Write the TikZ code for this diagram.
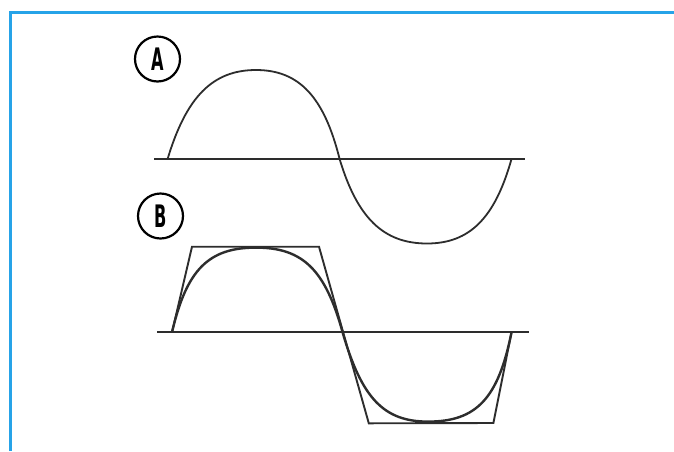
\documentclass[tikz,border=0pt]{standalone}
\usepackage{fontspec}
\setsansfont{DejaVu Sans}
\usetikzlibrary{calc}
\definecolor{ink}{RGB}{45,45,45}
\definecolor{frameblue}{RGB}{38,163,232}
\begin{document}
\begin{tikzpicture}[x=1pt,y=-1pt,
  wave/.style={line width=1.8pt, draw=ink, line join=round},
  thickwave/.style={line width=2.4pt, draw=ink, line join=round},
  axisline/.style={line width=2.2pt, draw=ink},
  trap/.style={line width=1.9pt, draw=ink, line join=miter},
  lbl/.style={circle, draw=black, line width=2.2pt, minimum size=45pt, inner sep=0pt,
    font=\sffamily\bfseries\fontsize{31}{31}\selectfont},
  frameline/.style={line width=3pt, draw=frameblue}]
\useasboundingbox (0,0) rectangle (674,451);
\fill[white] (0,0) rectangle (674,451);
\draw[frameline] (10.5,451) -- (10.5,12) -- (674,12);
% labels
\node[lbl] (la) at (157.5,59) {\scalebox{0.52}[1]{A}};
\node[lbl] (lb) at (160.5,216) {\scalebox{0.52}[1]{B}};
% ---------- A ----------
\coordinate (a0) at (167.6,159);
\coordinate (apk) at (256,70);
\coordinate (acl) at (194.3,70);
\coordinate (acr) at (317.4,70);
\coordinate (a1) at (339.6,159);
\coordinate (atr) at (427,243.5);
\coordinate (acl2) at (365,243.5);
\coordinate (acr2) at (487.8,243.5);
\coordinate (a2) at (511.5,159);
\coordinate (axl) at (154,159);
\coordinate (axr) at (525,159);
\draw[axisline] (axl) -- (axr);
\draw[wave] (a0) .. controls ($(a0)!0.7!(acl)$) and ($(apk)!0.7!(acl)$) .. (apk)
  .. controls ($(apk)!0.7!(acr)$) and ($(a1)!0.7!(acr)$) .. (a1)
  .. controls ($(a1)!0.7!(acl2)$) and ($(atr)!0.7!(acl2)$) .. (atr)
  .. controls ($(atr)!0.7!(acr2)$) and ($(a2)!0.7!(acr2)$) .. (a2);
% ---------- B ----------
\coordinate (b0) at (172,332.3);
\coordinate (bpk) at (256,247.6);
\coordinate (bcl) at (191.8,247.6);
\coordinate (bcr) at (319.2,247.6);
\coordinate (b1) at (342.6,332.3);
\coordinate (btr) at (428,421.6);
\coordinate (bcl2) at (368.4,421.6);
\coordinate (bcr2) at (493.6,421.6);
\coordinate (b2) at (511.5,332.3);
\coordinate (t1) at (192,246.7);
\coordinate (t2) at (319,246.7);
\coordinate (t3) at (368.8,423.3);
\coordinate (t4) at (493.4,423);
\coordinate (bxl) at (157,332.3);
\coordinate (bxr) at (528.7,332.3);
\draw[axisline] (bxl) -- (bxr);
\draw[trap] (b0) -- (t1) -- (t2) -- (t3) -- (t4) -- (b2);
\draw[thickwave] (b0) .. controls ($(b0)!0.74!(bcl)$) and ($(bpk)!0.74!(bcl)$) .. (bpk)
  .. controls ($(bpk)!0.74!(bcr)$) and ($(b1)!0.74!(bcr)$) .. (b1)
  .. controls ($(b1)!0.74!(bcl2)$) and ($(btr)!0.74!(bcl2)$) .. (btr)
  .. controls ($(btr)!0.74!(bcr2)$) and ($(b2)!0.74!(bcr2)$) .. (b2);
\end{tikzpicture}
\end{document}
